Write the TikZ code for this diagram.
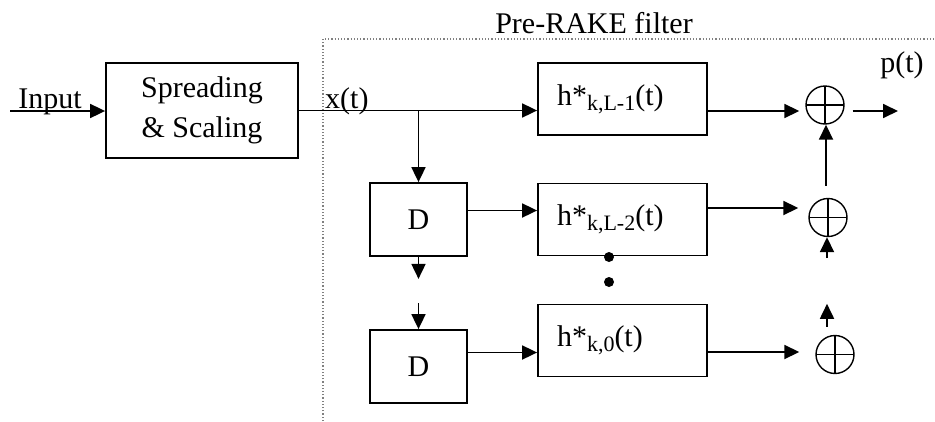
\documentclass[tikz,border=0pt]{standalone}
\usepackage{fontspec}
\setmainfont{Liberation Serif}
\usetikzlibrary{arrows.meta, positioning, calc}

\newcommand{\hker}[1]{h*\raisebox{-5pt}{\fontsize{22}{22}\selectfont #1}(t)}

\begin{document}
\begin{tikzpicture}[
    x=1pt, y=-1pt,
    block/.style={
        draw=black, line width=1.8pt, align=center,
        font=\fontsize{30}{40}\selectfont, inner sep=0pt
    },
    filt/.style={
        block, minimum width=169pt, minimum height=72pt,
        text width=131pt, align=left
    },
    delay/.style={block, minimum width=97pt, minimum height=73pt},
    sum/.style={
        circle, draw=black, line width=1.4pt, minimum size=38pt, inner sep=0pt,
        path picture={\draw[line width=1.2pt]
            (path picture bounding box.north) -- (path picture bounding box.south)
            (path picture bounding box.west) -- (path picture bounding box.east);}
    },
    dot/.style={circle, fill=black, minimum size=10pt, inner sep=0pt},
    arr/.style={-{Triangle[length=15pt, width=14pt]}, line width=1.8pt},
    lbl/.style={font=\fontsize{30}{36}\selectfont, inner sep=0pt}
]

\useasboundingbox (0,0) rectangle (935,421);

% =============================================
% Pre-RAKE frame
% =============================================
\coordinate (fbl) at (323,421);
\coordinate (ftl) at (323,39);
\coordinate (ftr) at (935,39);
\draw[gray, dotted, line width=1.2pt] (fbl) -- (ftl) -- (ftr);
\node[lbl, anchor=base] (pre) at (594,33) {Pre-RAKE filter};

% =============================================
% Spreading
% =============================================
\coordinate (in) at (10,111);
\node[lbl, anchor=base] (inp) at (50,108) {Input};
\node[block, minimum width=192pt, minimum height=95pt] (spread) at (202,110.5)
    {Spreading\\\& Scaling};
\draw[arr] (in) -- (in -| spread.west);

\node[lbl, anchor=base west] (xt) at (325,108) {x(t)};

% =============================================
% Filter taps and delays
% =============================================
\node[filt] (h1) at (622.5,99) {\hker{k,L-1}};
\node[filt] (h2) at (622.5,219.5) {\hker{k,L-2}};
\node[filt] (h3) at (622.5,340.5) {\hker{k,0}};

\node[delay] (d1) at (418.5,219.5) {D};
\node[delay] (d2) at (418.5,366.5) {D};

\node[dot] (dot1) at (609,257) {};
\node[dot] (dot2) at (609,282) {};

\draw[arr] (spread.east) -- (spread.east -| h1.west);
\coordinate (br) at (spread.east -| d1.north);
\draw[arr] (br) -- (d1.north);

\coordinate (gap1) at ([yshift=-22pt]d1.south);
\coordinate (gap2) at ([yshift=26pt]d2.north);
\draw[arr] (d1.south) -- (gap1);
\draw[arr] (gap2) -- (d2.north);

\draw[arr] ([yshift=9pt]d1.east) -- ([yshift=9pt]d1.east -| h2.west);
\draw[arr] ([yshift=14pt]d2.east) -- ([yshift=14pt]d2.east -| h3.west);

% =============================================
% Summing nodes
% =============================================
\node[sum] (s1) at (825,105) {};
\node[sum] (s2) at (828,217.5) {};
\node[sum] (s3) at (835,354.5) {};

\draw[arr, shorten >=6pt] ([yshift=-12pt]h1.east) -- ([yshift=-12pt]h1.east -| s1.west);
\draw[arr, shorten >=10pt] ([yshift=11.5pt]h2.east) -- ([yshift=11.5pt]h2.east -| s2.west);
\draw[arr, shorten >=16pt] ([yshift=-11.5pt]h3.east) -- ([yshift=-11.5pt]h3.east -| s3.west);

\draw[arr, shorten <=12pt] ([xshift=-2pt]s2.north) -- ([xshift=-2pt]s2.north |- s1.south);

\coordinate (s2in) at ([xshift=-1pt, yshift=-21pt]s2.south);
\draw[arr] (s2in) -- (s2in |- s2.south);

\coordinate (s3a) at ([xshift=-8pt, yshift=8pt]s3.north);
\coordinate (s3b) at ([xshift=-8pt, yshift=31pt]s3.north);
\draw[arr] (s3a) -- (s3b);

% =============================================
% Output
% =============================================
\coordinate (out) at (898,111);
\draw[arr, shorten <=8pt] (out -| s1.east) -- (out);
\node[lbl, anchor=base] (pt) at (902,72) {p(t)};

\end{tikzpicture}
\end{document}
